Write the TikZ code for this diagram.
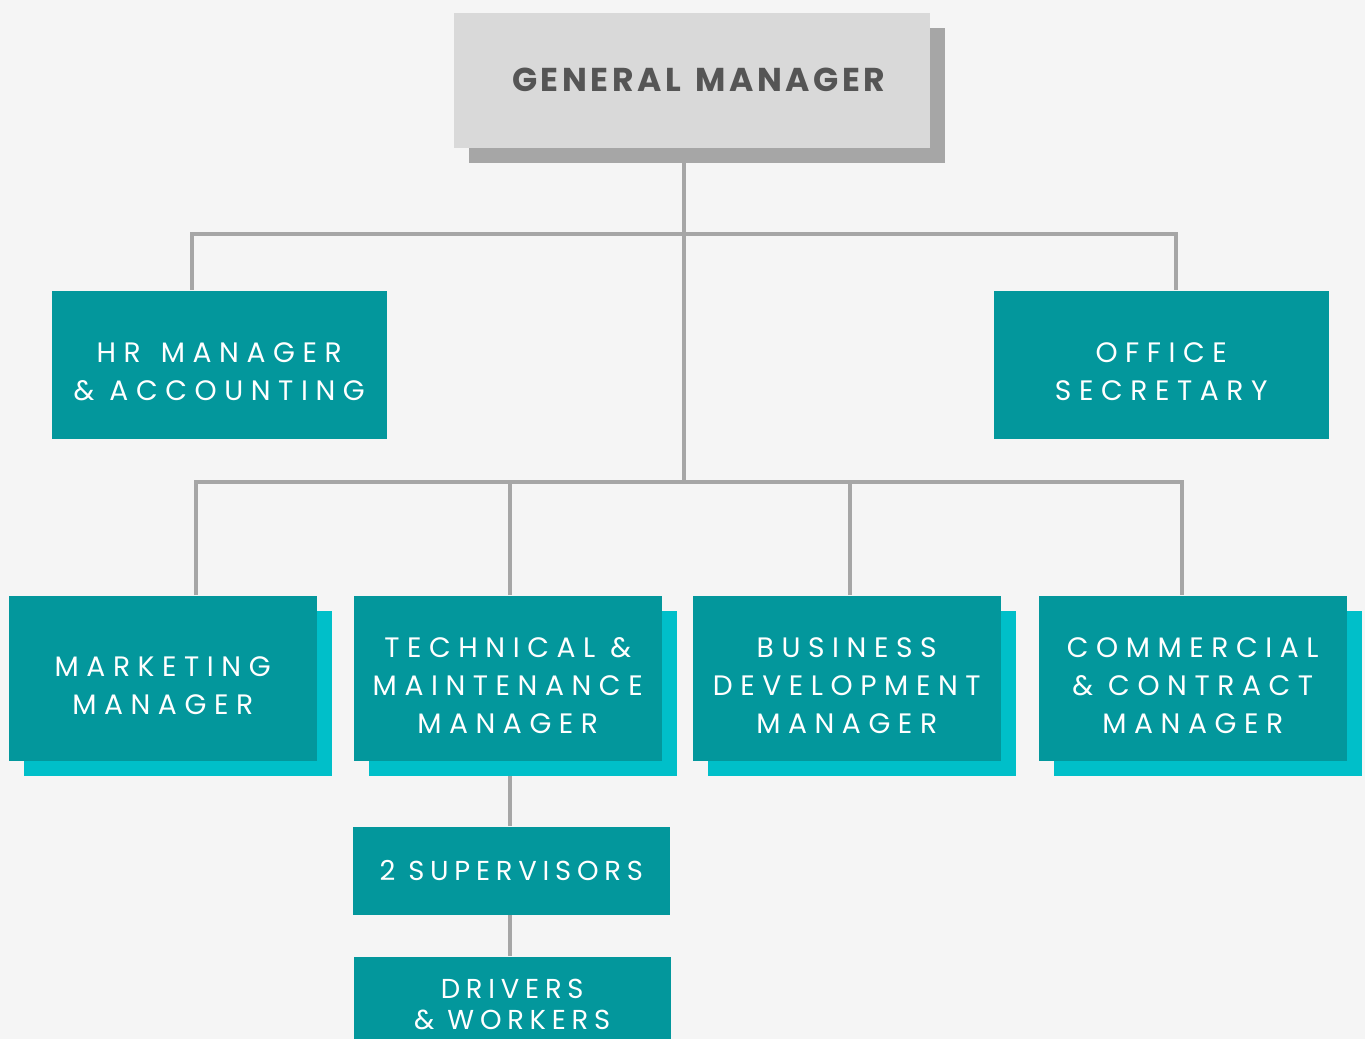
\documentclass[tikz,border=0pt]{standalone}
\usepackage{fontspec}
\setmainfont{Poppins}
\newfontfamily\boxfont{Poppins}[LetterSpace=27]
\newfontfamily\tightfont{Poppins}[LetterSpace=21]
\newfontfamily\headfont{Poppins}[LetterSpace=11,WordSpace=1.3]
\usepackage{tikz}
\usetikzlibrary{shadows,backgrounds}
\definecolor{pagebg}{HTML}{F5F5F5}
\definecolor{deepteal}{HTML}{03979C}
\definecolor{liftcyan}{HTML}{00BFC9}
\definecolor{linkgray}{HTML}{A6A6A6}
\definecolor{headfill}{HTML}{D9D9D9}
\definecolor{headtext}{HTML}{555555}
\tikzset{
  unit/.style={fill=deepteal, text=white, inner sep=0pt, align=center, anchor=north west,
    font=\boxfont\fontsize{8}{10.8}\selectfont},
  % push multi-line texts a little lower in their box
  lowtext/.style={text height=#1},
  lifted/.style={drop shadow={shadow xshift=1.5mm,shadow yshift=-1.5mm,fill=liftcyan,opacity=1}},
  headbox/.style={fill=headfill, text=headtext, inner sep=0pt, anchor=north west,
    minimum width=47.6mm, minimum height=13.5mm,
    font=\headfont\bfseries\fontsize{9.4}{11}\selectfont,
    drop shadow={shadow xshift=1.5mm,shadow yshift=-1.5mm,fill=linkgray,opacity=1}},
  link/.style={draw=linkgray, line width=1.2pt}
}
\begin{document}
\begin{tikzpicture}[x=0.1mm,y=-0.1mm]
  \useasboundingbox (0,0) rectangle (1365,1039);
  % top of the chart
  \node[headbox] (gm) at (453,12) {\hspace*{1.4mm}GENERAL MANAGER};
  \node[unit, lowtext=20.5pt, minimum width=33.5mm, minimum height=14.8mm] (hr) at (51,290) {HR\hspace{0.5mm} MANAGER\\\& ACCOUNTING};
  \node[unit, lowtext=20.5pt, minimum width=33.5mm, minimum height=14.8mm] (os) at (993,290) {OFFICE\\SECRETARY};
  % managers row
  \foreach \name/\x/\h/\txt in {mk/8/20.5pt/{MARKETING\\MANAGER},
      tm/353/31.3pt/{TECHNICAL \&\\MAINTENANCE\\MANAGER},
      bd/692/31.3pt/{BUSINESS\\DEVELOPMENT\\MANAGER},
      cm/1038/31.3pt/{COMMERCIAL\\\& CONTRACT\\MANAGER}}
    \node[unit, lowtext=\h, lifted, minimum width=30.8mm, minimum height=16.5mm] (\name) at (\x,595) {\txt};
  % under technical
  \node[unit, minimum width=31.7mm, minimum height=8.8mm,
    font=\tightfont\fontsize{7.8}{10.8}\selectfont] (sv) at (352,826) {2 SUPERVISORS};
  \node[unit, minimum width=31.7mm, minimum height=9.5mm,
    font=\tightfont\fontsize{7.8}{8.8}\selectfont] (dw) at (353,956) {DRIVERS\\\& WORKERS};
  % connectors behind the boxes
  \begin{scope}[on background layer]
    \fill[pagebg] (0,0) rectangle (1365,1039);
    \coordinate (t1) at (192,234); \coordinate (t2) at (1176,234);
    \coordinate (b1) at (196,482); \coordinate (b2) at (510,482);
    \coordinate (b3) at (850,482); \coordinate (b4) at (1182,482);
    \coordinate (spine) at (684,482);
    \draw[link] (gm.south -| spine) -- (spine);
    \draw[link] (hr.north -| t1) -- (t1) -- (t2) -- (os.north -| t2);
    \draw[link] (mk.north -| b1) -- (b1) -- (b4) -- (cm.north -| b4);
    \draw[link] (tm.north -| b2) -- (b2);
    \draw[link] (bd.north -| b3) -- (b3);
    \draw[link] (tm.south -| b2) -- (sv.north -| b2);
    \draw[link] (sv.south -| b2) -- (dw.north -| b2);
  \end{scope}
\end{tikzpicture}
\end{document}
